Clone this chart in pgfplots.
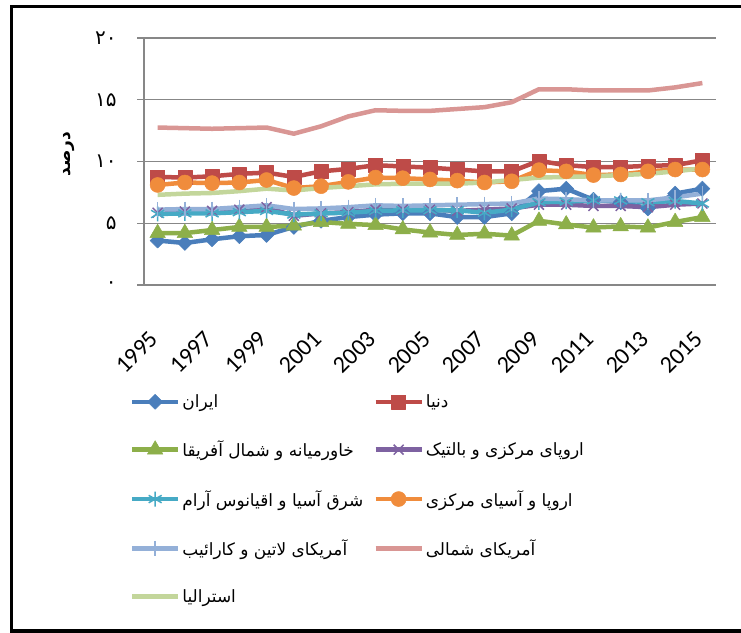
\documentclass[border=0pt]{standalone}
\usepackage{fontspec}
\usepackage{pgfplots}
\pgfplotsset{compat=1.18}
\setmainfont{Carlito}
\newfontfamily\arabicfont[Script=Arabic]{DejaVu Sans}
\TeXXeTstate=1
\definecolor{cIran}{HTML}{4A7EBB}
\definecolor{cWorld}{HTML}{BE4B48}
\definecolor{cMena}{HTML}{8DAF4A}
\definecolor{cCeb}{HTML}{7E62A1}
\definecolor{cEap}{HTML}{46AAC5}
\definecolor{cEca}{HTML}{F08C3C}
\definecolor{cLac}{HTML}{94B0D8}
\definecolor{cNam}{HTML}{D99694}
\definecolor{cAus}{HTML}{C3D69B}
\definecolor{cGrid}{HTML}{878787}
\newcommand{\fa}[1]{{\arabicfont\beginR #1\endR}}
\begin{document}
\begin{tikzpicture}
\path[use as bounding box] (0bp,0bp) rectangle (741bp,633bp);
\draw[line width=3.5bp] (741bp,626.5bp) -- (11.5bp,626.5bp) -- (11.5bp,2bp) -- (741bp,2bp);
\begin{axis}[
  at={(144bp,348bp)}, anchor=south west,
  scale only axis, width=572bp, height=247bp,
  xmin=-0.5, xmax=20.5, ymin=0, ymax=20,
  axis lines*=left,
  axis line style={draw=cGrid, line width=1.2bp},
  ymajorgrids, grid style={draw=cGrid, line width=1.2bp},
  xtick={0,2,...,20},
  xticklabels={1995,1997,1999,2001,2003,2005,2007,2009,2011,2013,2015},
  xtick style={draw=none},
  extra x ticks={-0.5,0.5,...,20.5},
  extra x tick labels={},
  extra x tick style={grid=none, tick style={draw=cGrid, line width=1.2bp}},
  ytick={0,5,10,15,20},
  yticklabels={\fa{۰},\fa{۵},\fa{۱۰},\fa{۱۵},\fa{۲۰}},
  ytick style={draw=cGrid, line width=1.2bp},
  tick align=outside, major tick length=7bp,
  xticklabel style={font=\fontsize{24}{26}\selectfont, rotate=45, anchor=east, xshift=-29.7bp, yshift=-27.9bp},
  yticklabel style={font=\fontsize{20}{22}\selectfont, anchor=east, xshift=-17bp},
  ylabel={\bfseries\fa{درصد}},
  ylabel style={font=\fontsize{17}{19}\selectfont, at={(axis description cs:-0.131,0.53)}, anchor=center},
  legend columns=2,
  legend style={at={(axis description cs:-0.025,-0.435)}, anchor=north west, draw=none, fill=none,
    font=\fontsize{17}{19}\selectfont, row sep=28bp, column sep=0pt, inner sep=0pt,
    cells={anchor=west}},
  legend image code/.code={\draw[mark repeat=2,mark phase=2,#1] plot coordinates {(0bp,0bp) (23bp,0bp) (46bp,0bp)};},
  every axis plot/.append style={line width=4.5bp, line join=round},
]
% Iran
\addplot[cIran, mark=square*, mark size=5.3bp, mark options={rotate=45, line width=0.5bp, fill=cIran}] coordinates {
(0,3.6)(1,3.4)(2,3.7)(3,3.95)(4,4.05)(5,4.7)(6,5.2)(7,5.5)(8,5.7)(9,5.8)(10,5.8)(11,5.5)(12,5.5)(13,5.8)(14,7.6)(15,7.8)(16,6.9)(17,6.7)(18,6.2)(19,7.4)(20,7.8)};
\addlegendentry{\makebox[189bp][l]{\fa{ایران}}}
% World
\addplot[cWorld, mark=square*, mark size=7bp, mark options={line width=0.5bp, fill=cWorld}] coordinates {
(0,8.75)(1,8.7)(2,8.8)(3,9.0)(4,9.1)(5,8.75)(6,9.2)(7,9.4)(8,9.7)(9,9.6)(10,9.5)(11,9.35)(12,9.2)(13,9.2)(14,10.05)(15,9.7)(16,9.55)(17,9.55)(18,9.65)(19,9.7)(20,10.1)};
\addlegendentry{\fa{دنیا}}
% MENA
\addplot[cMena, mark=triangle*, mark size=9bp, mark options={line width=0.5bp, fill=cMena}] coordinates {
(0,4.2)(1,4.2)(2,4.45)(3,4.7)(4,4.7)(5,4.8)(6,5.1)(7,4.95)(8,4.85)(9,4.5)(10,4.25)(11,4.05)(12,4.15)(13,4.0)(14,5.2)(15,4.9)(16,4.65)(17,4.75)(18,4.65)(19,5.1)(20,5.5)};
\addlegendentry{\makebox[189bp][l]{\fa{خاورمیانه و شمال آفریقا}}}
% Central Europe and Baltics
\addplot[cCeb, mark=x, mark size=7bp, mark options={line width=1.5bp}] coordinates {
(0,5.85)(1,5.95)(2,6.0)(3,6.1)(4,6.3)(5,5.6)(6,5.8)(7,5.9)(8,6.1)(9,6.1)(10,6.1)(11,6.0)(12,6.1)(13,6.2)(14,6.5)(15,6.5)(16,6.4)(17,6.4)(18,6.3)(19,6.5)(20,6.6)};
\addlegendentry{\fa{اروپای مرکزی و بالتیک}}
% East Asia and Pacific
\addplot[cEap, mark=asterisk, mark size=7.5bp, mark options={line width=1.5bp}] coordinates {
(0,5.75)(1,5.8)(2,5.8)(3,5.9)(4,6.0)(5,5.7)(6,5.8)(7,5.85)(8,6.0)(9,6.05)(10,6.05)(11,6.05)(12,5.85)(13,6.1)(14,6.7)(15,6.75)(16,6.85)(17,6.85)(18,6.7)(19,6.8)(20,6.6)};
\addlegendentry{\makebox[189bp][l]{\fa{شرق آسیا و اقیانوس آرام}}}
% Europe and Central Asia
\addplot[cEca, mark=*, mark size=7.5bp, mark options={line width=0.5bp, fill=cEca}] coordinates {
(0,8.1)(1,8.3)(2,8.25)(3,8.3)(4,8.5)(5,7.85)(6,8.0)(7,8.35)(8,8.7)(9,8.65)(10,8.55)(11,8.45)(12,8.3)(13,8.4)(14,9.3)(15,9.2)(16,8.9)(17,8.95)(18,9.2)(19,9.35)(20,9.35)};
\addlegendentry{\fa{اروپا و آسیای مرکزی}}
% Latin America and Caribbean
\addplot[cLac, mark=|, mark size=7.5bp, mark options={line width=1.5bp}] coordinates {
(0,6.1)(1,6.15)(2,6.15)(3,6.3)(4,6.45)(5,6.15)(6,6.2)(7,6.3)(8,6.45)(9,6.4)(10,6.45)(11,6.5)(12,6.55)(13,6.6)(14,7.0)(15,6.95)(16,6.85)(17,6.85)(18,6.85)(19,7.1)(20,7.4)};
\addlegendentry{\makebox[189bp][l]{\fa{آمریکای لاتین و کارائیب}}}
% North America
\addplot[cNam, no markers] coordinates {
(0,12.75)(1,12.7)(2,12.65)(3,12.7)(4,12.75)(5,12.25)(6,12.85)(7,13.65)(8,14.15)(9,14.1)(10,14.1)(11,14.25)(12,14.4)(13,14.8)(14,15.85)(15,15.85)(16,15.75)(17,15.75)(18,15.75)(19,16.0)(20,16.35)};
\addlegendentry{\fa{آمریکای شمالی}}
% Australia
\addplot[cAus, no markers] coordinates {
(0,7.3)(1,7.4)(2,7.45)(3,7.6)(4,7.8)(5,7.65)(6,7.85)(7,8.0)(8,8.15)(9,8.2)(10,8.2)(11,8.2)(12,8.3)(13,8.5)(14,8.7)(15,8.75)(16,8.8)(17,8.9)(18,9.0)(19,9.2)(20,9.45)};
\addlegendentry{\makebox[189bp][l]{\fa{استرالیا}}}
\end{axis}
\end{tikzpicture}
\end{document}
